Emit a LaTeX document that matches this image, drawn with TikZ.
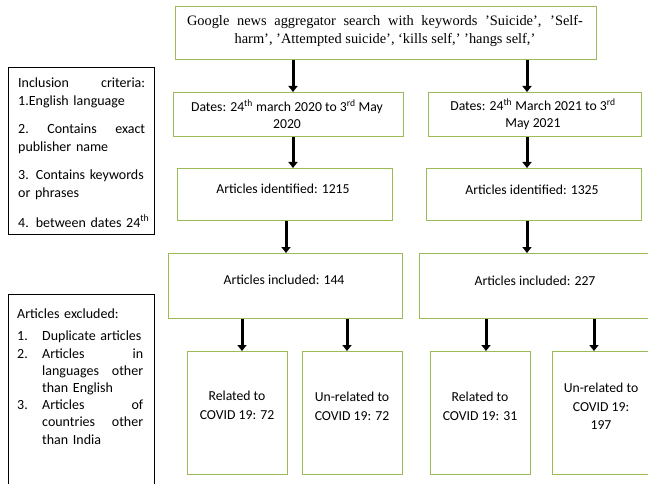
\documentclass[tikz,border=0pt]{standalone}
\usepackage{fontspec}
\setmainfont{Liberation Serif}
\newfontfamily\calfont{Carlito}
\usetikzlibrary{arrows.meta}
\definecolor{boxgreen}{HTML}{9BBB59}
\tikzset{
  gbox/.style={draw=boxgreen, line width=1.2pt, inner sep=0pt, anchor=north west},
  kbox/.style={draw=black, line width=0.9pt, inner sep=0pt, anchor=north west},
  ctext/.style={inner sep=0pt, align=center, font=\calfont\fontsize{13.7}{18}\selectfont},
  ltext/.style={inner sep=0pt, anchor=north west, text width=127pt, align=left, font=\calfont\fontsize{14}{17.8}\selectfont},
  arr/.style={line width=3pt, -{Triangle[length=6pt,width=9pt]}}
}
\begin{document}
\begin{tikzpicture}[x=1pt,y=-1pt]
\clip (0,0) rectangle (648,484);
% boxes
\node[gbox, minimum width=421pt, minimum height=53pt] (top) at (175,6) {};
\node[gbox, minimum width=230pt, minimum height=44pt] (dl) at (173,92) {};
\node[gbox, minimum width=213pt, minimum height=44pt] (dr) at (428,92) {};
\node[gbox, minimum width=215pt, minimum height=52pt] (il) at (177,168) {};
\node[gbox, minimum width=215pt, minimum height=52pt] (ir) at (426,168) {};
\node[gbox, minimum width=234pt, minimum height=65pt] (nl) at (168,253) {};
\node[gbox, minimum width=234pt, minimum height=65pt] (nr) at (419,253) {};
\node[gbox, minimum width=100pt, minimum height=123pt] (b1) at (187,351) {};
\node[gbox, minimum width=100pt, minimum height=123pt] (b2) at (302,351) {};
\node[gbox, minimum width=100pt, minimum height=123pt] (b3) at (430,351) {};
\node[gbox, minimum width=100pt, minimum height=123pt] (b4) at (552,351) {};
\node[kbox, minimum width=146pt, minimum height=167pt] (inc) at (8,67) {};
\node[kbox, minimum width=146pt, minimum height=200pt] (exc) at (8,294) {};
% texts
\node[inner sep=0pt, align=center, font=\fontsize{14.4}{18.5}\selectfont] (toptxt) at (385,31)
  {\makebox[396pt][s]{Google news aggregator search with keywords ’Suicide’, ’Self-}\\harm’, ’Attempted suicide’, ‘kills self,’ ’hangs self,’};
\node[ctext, font=\calfont\fontsize{13.7}{17}\selectfont] (dltxt) at (287,114.5) {Dates: 24\textsuperscript{th} march 2020 to 3\textsuperscript{rd} May\\2020};
\node[ctext, font=\calfont\fontsize{13.7}{17}\selectfont] (drtxt) at (533,114.5) {Dates: 24\textsuperscript{th} March 2021 to 3\textsuperscript{rd}\\May 2021};
\node[ctext] (iltxt) at (283,189) {Articles identified: 1215};
\node[ctext] (irtxt) at (532,190) {Articles identified: 1325};
\node[ctext] (nltxt) at (284,280) {Articles included: 144};
\node[ctext] (nrtxt) at (535,281) {Articles included: 227};
\node[ctext, font=\calfont\fontsize{13.7}{19}\selectfont] (b1txt) at (237,405.5) {Related to\\COVID 19: 72};
\node[ctext, font=\calfont\fontsize{13.7}{19}\selectfont] (b2txt) at (352,406.5) {Un-related to\\COVID 19: 72};
\node[ctext, font=\calfont\fontsize{13.7}{19}\selectfont] (b3txt) at (480,406.5) {Related to\\COVID 19: 31};
\node[ctext, font=\calfont\fontsize{13.7}{18.5}\selectfont] (b4txt) at (601,406.5) {Un-related to\\COVID 19:\\197};
\node[ltext] (inctxt) at (18,78)
  {Inclusion\hfill criteria:\\
   1.English language\\[10.2pt]
   2.\hfill Contains\hfill exact\\
   publisher name\\[10.2pt]
   3. Contains keywords\\
   or phrases\\[12pt]
   \makebox[127pt][l]{4. between dates 24\textsuperscript{th}}};
\node[ltext, text width=126pt, font=\calfont\fontsize{14}{17.2}\selectfont] (exctxt) at (17,309)
  {Articles excluded:\\[4.8pt]
   \makebox[25pt][l]{1.}Duplicate articles\\
   \makebox[25pt][l]{2.}Articles\hfill in\\
   \hspace*{25pt}languages\hfill other\\
   \hspace*{25pt}than English\\
   \makebox[25pt][l]{3.}Articles\hfill of\\
   \hspace*{25pt}countries\hfill other\\
   \hspace*{25pt}than India};
% arrow columns
\coordinate (c1) at (293,0);
\coordinate (c2) at (527,0);
\coordinate (c3) at (286,0);
\coordinate (c4) at (242,0);
\coordinate (c5) at (347,0);
\coordinate (c6) at (486,0);
\coordinate (c7) at (594,0);
% arrows
\draw[arr] (top.south -| c1) -- (dl.north -| c1);
\draw[arr] (top.south -| c2) -- (dr.north -| c2);
\draw[arr] (dl.south -| c1) -- (il.north -| c1);
\draw[arr] (dr.south -| c2) -- (ir.north -| c2);
\draw[arr] (il.south -| c3) -- (nl.north -| c3);
\draw[arr] (ir.south -| c2) -- (nr.north -| c2);
\draw[arr] (nl.south -| c4) -- (b1.north -| c4);
\draw[arr] (nl.south -| c5) -- (b2.north -| c5);
\draw[arr] (nr.south -| c6) -- (b3.north -| c6);
\draw[arr] (nr.south -| c7) -- (b4.north -| c7);
\end{tikzpicture}
\end{document}
